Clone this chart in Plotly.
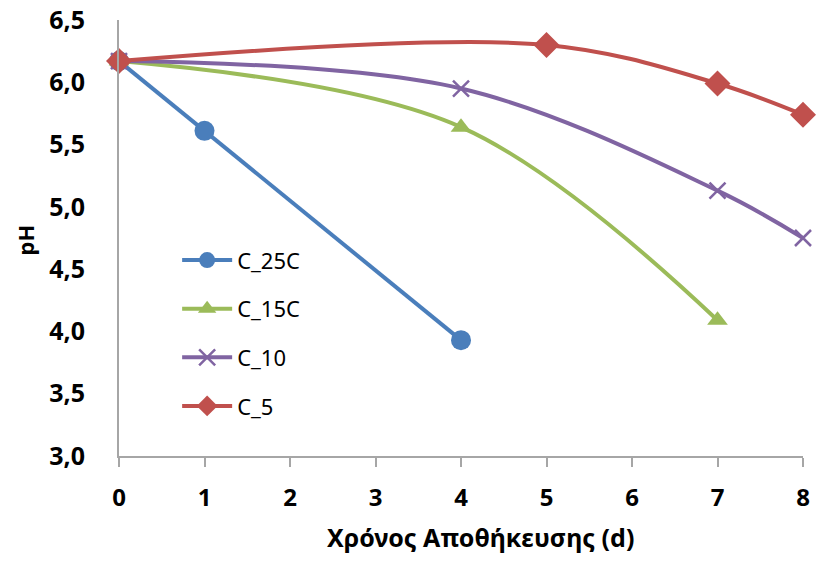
import plotly.graph_objects as go

series_names = ["C_25C", "C_15C", "C_10", "C_5"]
x_25 = [0, 1, 4]
y_25 = [6.17, 5.61, 3.93]
x_15 = [0, 4, 7]
y_15 = [6.17, 5.64, 4.09]
x_10 = [0, 4, 7, 8]
y_10 = [6.17, 5.95, 5.13, 4.75]
x_5 = [0, 5, 7, 8]
y_5 = [6.17, 6.30, 5.99, 5.74]

x_title = "Χρόνος Αποθήκευσης (d)"
y_title = "pH"

colors = ["#4A7EBB", "#9BBB59", "#8064A2", "#C0504D"]
symbols = ["circle", "triangle-up", "x-thin", "diamond"]
sizes = [20, 18, 16, 20]

xs = [x_25, x_15, x_10, x_5]
ys = [y_25, y_15, y_10, y_5]

FONT = "Noto Sans, Lato, sans-serif"

fig = go.Figure()
for i in range(4):
    shape = "linear" if i == 0 else "spline"
    marker = dict(color=colors[i], size=sizes[i], symbol=symbols[i])
    if symbols[i] == "x-thin":
        marker["line"] = dict(color=colors[i], width=2.5)
    fig.add_trace(go.Scatter(
        x=xs[i], y=ys[i], name=series_names[i], mode="lines+markers",
        line=dict(color=colors[i], width=4, shape=shape, smoothing=1.0),
        marker=marker, cliponaxis=False, legendgroup=str(i),
    ))

fig.update_layout(
    width=833, height=562,
    margin=dict(l=119, r=30, t=20, b=106, pad=0, autoexpand=False),
    plot_bgcolor="white", paper_bgcolor="white",
    separators=",.",
    font=dict(family=FONT, color="black"),
    showlegend=True,
    legend=dict(x=0.085, y=0.497, xanchor="left", yanchor="top",
                font=dict(size=22, family=FONT),
                bgcolor="rgba(0,0,0,0)", tracegroupgap=17, itemwidth=50),
    xaxis=dict(range=[0, 8], tickmode="array", tickvals=list(range(9)),
               automargin=False,
               showgrid=False, zeroline=False, showline=True, linecolor="#A6A6A6",
               linewidth=2, ticks="outside", ticklen=9, tickwidth=1.5, tickcolor="#A6A6A6",
               tickfont=dict(size=24, family=FONT, weight="bold"),
               ticklabelstandoff=10),
    yaxis=dict(range=[3.0, 6.5], tickmode="array",
               tickvals=[3.0, 3.5, 4.0, 4.5, 5.0, 5.5, 6.0, 6.5],
               automargin=False,
               tickformat=".1f", showgrid=False, zeroline=False, showline=True,
               linecolor="#A6A6A6", linewidth=2, ticks="",
               tickfont=dict(size=25, family=FONT, weight="bold"),
               ticklabelstandoff=27),
    annotations=[
        dict(text=x_title, xref="paper", yref="paper", x=0.529, y=-0.186,
             xanchor="center", yanchor="middle", showarrow=False,
             font=dict(size=25, family=FONT, weight="bold")),
        dict(text=y_title, xref="paper", yref="paper", x=-0.137, y=0.495,
             xanchor="center", yanchor="middle", showarrow=False, textangle=-90,
             font=dict(size=22, family=FONT, weight="bold")),
    ],
)

fig.write_html("out.html")
